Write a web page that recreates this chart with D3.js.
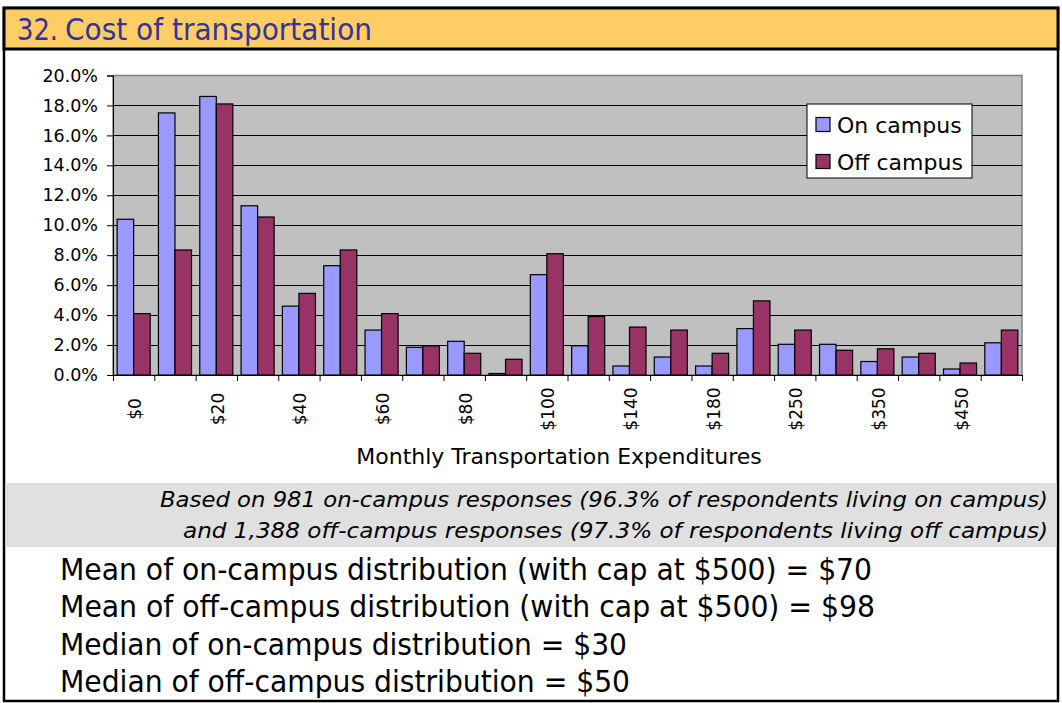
<!DOCTYPE html>
<html>
<head>
<meta charset="utf-8">
<script src="https://cdn.jsdelivr.net/npm/d3@7"></script>
<style>
  body { margin: 0; background: #fff; }
  svg { display: block; }
</style>
</head>
<body>
<div id="chart"></div>
<script>
// data (percent of respondents)
var categories = ["$0", "$10", "$20", "$30", "$40", "$50", "$60", "$70", "$80", "$90", "$100",
  "$120", "$140", "$160", "$180", "$200", "$250", "$300", "$350", "$400", "$450", "$500"];
var onCampus = [10.4, 17.5, 18.6, 11.3, 4.6, 7.3, 3.0, 1.85, 2.25, 0.1, 6.7,
  1.95, 0.6, 1.2, 0.6, 3.1, 2.05, 2.05, 0.9, 1.2, 0.4, 2.15];
var offCampus = [4.1, 8.35, 18.1, 10.55, 5.45, 8.35, 4.1, 1.95, 1.45, 1.05, 8.1,
  3.9, 3.2, 3.0, 1.45, 4.95, 3.0, 1.65, 1.75, 1.45, 0.8, 3.0];
var seriesNames = ["On campus", "Off campus"];
var yTicks = [0, 2, 4, 6, 8, 10, 12, 14, 16, 18, 20];
var xLabels = ["$0", "$20", "$40", "$60", "$80", "$100", "$140", "$180", "$250", "$350", "$450"];

var TITLE_NUM = "32.";
var TITLE = "Cost of transportation";
var X_TITLE = "Monthly Transportation Expenditures";
var NOTES = [
  "Based on 981 on-campus responses (96.3% of respondents living on campus)",
  "and 1,388 off-campus responses (97.3% of respondents living off campus)"
];
var STATS = [
  "Mean of on-campus distribution (with cap at $500) = $70",
  "Mean of off-campus distribution (with cap at $500) = $98",
  "Median of on-campus distribution = $30",
  "Median of off-campus distribution = $50"
];

var W = 1062, H = 703;
var PLOT = { left: 113, right: 1022, top: 75.5, bottom: 375 };
var COLORS = ["#9999FF", "#993366"];
var FONT = "'DejaVu Sans', Verdana, sans-serif";
var NARROW = "'DejaVu Sans Condensed', 'DejaVu Sans', sans-serif";

var svg = d3.select("#chart").append("svg")
  .attr("width", W)
  .attr("height", H);

// outer frame
svg.append("rect")
  .attr("x", 4).attr("y", 8).attr("width", 1054).attr("height", 693)
  .attr("fill", "#fff").attr("stroke", "#000").attr("stroke-width", 2.5);

// title bar
svg.append("rect")
  .attr("x", 4).attr("y", 8).attr("width", 1054).attr("height", 41)
  .attr("fill", "#FFCC66").attr("stroke", "#000").attr("stroke-width", 3);
svg.append("text")
  .attr("x", 17).attr("y", 40)
  .attr("font-family", NARROW).attr("font-size", 30).attr("fill", "#333399")
  .attr("textLength", 41).attr("lengthAdjust", "spacingAndGlyphs")
  .text(TITLE_NUM);
svg.append("text")
  .attr("x", 65).attr("y", 40)
  .attr("font-family", NARROW).attr("font-size", 30).attr("fill", "#333399")
  .attr("textLength", 307).attr("lengthAdjust", "spacingAndGlyphs")
  .text(TITLE);

// scales
var x0 = d3.scaleBand()
  .domain(categories)
  .range([PLOT.left, PLOT.right])
  .paddingInner(0.2)
  .paddingOuter(0.1);
var x1 = d3.scaleBand()
  .domain(seriesNames)
  .range([0, x0.bandwidth()]);
var xEdge = d3.scaleLinear()
  .domain([0, categories.length])
  .range([PLOT.left, PLOT.right]);
var y = d3.scaleLinear()
  .domain([0, 20])
  .range([PLOT.bottom, PLOT.top]);
var color = d3.scaleOrdinal().domain(seriesNames).range(COLORS);

// plot area
svg.append("rect")
  .attr("x", PLOT.left).attr("y", y(20))
  .attr("width", PLOT.right - PLOT.left).attr("height", y(0) - y(20))
  .attr("fill", "#C0C0C0").attr("stroke", "#808080").attr("stroke-width", 1.5);

// gridlines
svg.append("g")
  .selectAll("line")
  .data(yTicks.filter(function(d) { return d > 0 && d < 20; }))
  .enter().append("line")
    .attr("x1", PLOT.left).attr("x2", PLOT.right)
    .attr("y1", function(d) { return Math.round(y(d)) + 0.5; })
    .attr("y2", function(d) { return Math.round(y(d)) + 0.5; })
    .attr("stroke", "#000").attr("stroke-width", 1);

// bars
var rows = categories.map(function(c, i) {
  return { cat: c, values: [
    { key: seriesNames[0], value: onCampus[i] },
    { key: seriesNames[1], value: offCampus[i] }
  ] };
});

svg.append("g")
  .selectAll("g")
  .data(rows)
  .enter().append("g")
    .attr("transform", function(d) { return "translate(" + x0(d.cat) + ",0)"; })
  .selectAll("rect")
  .data(function(d) { return d.values; })
  .enter().append("rect")
    .attr("x", function(d) { return x1(d.key); })
    .attr("y", function(d) { return y(d.value); })
    .attr("width", x1.bandwidth())
    .attr("height", function(d) { return y(0) - y(d.value); })
    .attr("fill", function(d) { return color(d.key); })
    .attr("stroke", "#000").attr("stroke-width", 1.2);

// y axis
var yAxis = svg.append("g")
  .attr("transform", "translate(" + PLOT.left + ",0)")
  .call(d3.axisLeft(y)
    .tickValues(yTicks)
    .tickSize(6)
    .tickPadding(9)
    .tickFormat(function(d) { return d.toFixed(1) + "%"; }));
yAxis.select(".domain").attr("stroke", "#000");
yAxis.selectAll("text")
  .attr("font-family", FONT).attr("font-size", 17.5).attr("fill", "#000");

// x axis: ticks on category edges
var xAxis = svg.append("g")
  .attr("transform", "translate(0," + PLOT.bottom + ")")
  .call(d3.axisBottom(xEdge)
    .tickValues(d3.range(categories.length + 1))
    .tickSize(6)
    .tickFormat(""));
xAxis.select(".domain").attr("stroke", "#000");

svg.append("g")
  .selectAll("text")
  .data(xLabels)
  .enter().append("text")
    .attr("transform", function(d) {
      return "translate(" + (x0(d) + x0.bandwidth() / 2 + 7.5) + "," + 409 + ") rotate(-90)";
    })
    .attr("text-anchor", "middle")
    .attr("font-family", FONT).attr("font-size", 17)
    .text(function(d) { return d; });

svg.append("text")
  .attr("x", 559).attr("y", 464)
  .attr("text-anchor", "middle")
  .attr("font-family", FONT).attr("font-size", 22)
  .text(X_TITLE);

// legend
var legend = svg.append("g").attr("transform", "translate(807,104)");
legend.append("rect")
  .attr("width", 165).attr("height", 74)
  .attr("fill", "#fff").attr("stroke", "#000").attr("stroke-width", 1);
seriesNames.forEach(function(name, i) {
  legend.append("rect")
    .attr("x", 9).attr("y", 13.5 + i * 37)
    .attr("width", 14).attr("height", 14)
    .attr("fill", color(name)).attr("stroke", "#000").attr("stroke-width", 1.2);
  legend.append("text")
    .attr("x", 30).attr("y", 28.5 + i * 37)
    .attr("font-family", FONT).attr("font-size", 22)
    .text(name);
});

// note band
svg.append("rect")
  .attr("x", 5.5).attr("y", 483).attr("width", 1051).attr("height", 64)
  .attr("fill", "#E0E0E0");
var noteX = [160, 183];
var noteW = [888, 865];
NOTES.forEach(function(line, i) {
  svg.append("text")
    .attr("x", noteX[i]).attr("y", 507 + i * 31)
    .attr("font-family", NARROW).attr("font-style", "italic").attr("font-size", 20.5)
    .attr("textLength", noteW[i]).attr("lengthAdjust", "spacingAndGlyphs")
    .text(line);
});

// summary statistics
var statW = [812, 815, 567, 570];
STATS.forEach(function(line, i) {
  svg.append("text")
    .attr("x", 60).attr("y", 580 + i * 37.3)
    .attr("font-family", NARROW).attr("font-size", 29.5)
    .attr("textLength", statW[i]).attr("lengthAdjust", "spacingAndGlyphs")
    .text(line);
});
</script>
</body>
</html>
